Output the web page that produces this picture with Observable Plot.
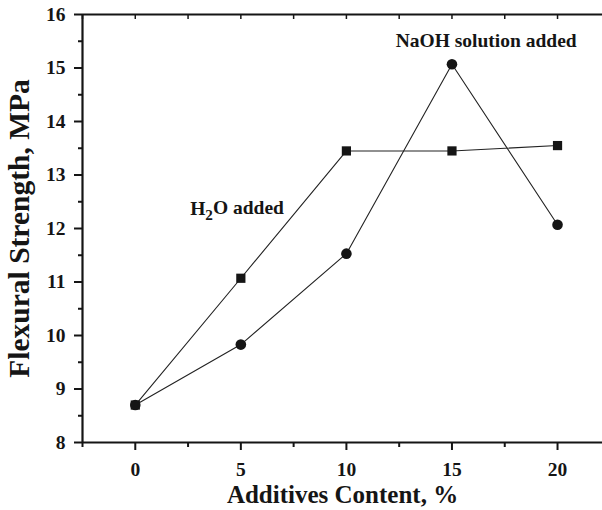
<!DOCTYPE html>
<html>
<head>
<meta charset="utf-8">
<script src="https://cdn.jsdelivr.net/npm/d3@7"></script>
<script src="https://cdn.jsdelivr.net/npm/@observablehq/plot@0.6"></script>
<style>
  html, body { margin: 0; padding: 0; background: white; }
  #chart { width: 602px; height: 510px; overflow: hidden; }
</style>
</head>
<body>
<div id="chart"></div>
<script>
// Data
const additives = [0, 5, 10, 15, 20];
const h2oStrength = [8.7, 11.07, 13.45, 13.45, 13.55];
const naohStrength = [8.7, 9.83, 11.53, 15.07, 12.07];

const xTicks = [0, 5, 10, 15, 20];
const xMinorTicks = [-2.5, 2.5, 7.5, 12.5, 17.5, 22.5];
const yTicks = [8, 9, 10, 11, 12, 13, 14, 15, 16];
const yMinorTicks = [8.5, 9.5, 10.5, 11.5, 12.5, 13.5, 14.5, 15.5];

const xLabel = "Additives Content, %";
const yLabel = "Flexural Strength, MPa";
const annotationText = ["NaOH solution added", "H2O added"];
const annotationX = [16.62, 4.82];
const annotationY = [15.51, 12.37];

const h2o = additives.map((x, i) => ({x, y: h2oStrength[i]}));
const naoh = additives.map((x, i) => ({x, y: naohStrength[i]}));
const notes = annotationText.map((t, i) => ({t, x: annotationX[i], y: annotationY[i]}));

const ink = "#151515";
const font = "Liberation Serif, Times New Roman, serif";

const chart = Plot.plot({
  width: 602,
  height: 510,
  marginLeft: 82,
  marginRight: 0,
  marginTop: 14,
  marginBottom: 68,
  x: {domain: [-2.5, 22.13]},
  y: {domain: [8, 16]},
  style: {fontFamily: font, fontWeight: "bold", color: ink, background: "white", overflow: "hidden"},
  marks: [
    Plot.axisX({ticks: xTicks, tickSize: 8, tickPadding: 12, fontSize: 19.5, label: null, strokeWidth: 2, fill: ink}),
    Plot.axisX({ticks: xMinorTicks, tickSize: 5, tickFormat: () => "", label: null, strokeWidth: 2}),
    Plot.axisX({anchor: "top", ticks: xTicks.concat(xMinorTicks), tickSize: -4, tickFormat: () => "", label: null, strokeWidth: 1.5}),
    Plot.axisY({ticks: yTicks, tickSize: 8, tickPadding: 9, fontSize: 19.5, label: null, strokeWidth: 2, fill: ink}),
    Plot.axisY({ticks: yMinorTicks, tickSize: 4, tickFormat: () => "", label: null, strokeWidth: 2}),
    Plot.ruleY([8], {stroke: ink, strokeWidth: 2.2}),
    Plot.ruleY([16], {stroke: ink, strokeWidth: 2.2}),
    Plot.ruleX([-2.5], {stroke: ink, strokeWidth: 2.2}),
    Plot.line(h2o, {x: "x", y: "y", stroke: "#222", strokeWidth: 1.1}),
    Plot.line(naoh, {x: "x", y: "y", stroke: "#222", strokeWidth: 1.1}),
    Plot.dot(h2o, {x: "x", y: "y", symbol: "square", r: 5.2, fill: ink, stroke: null}),
    Plot.dot(naoh, {x: "x", y: "y", symbol: "circle", r: 5.3, fill: ink, stroke: null}),
    Plot.text(notes, {x: "x", y: "y", text: "t", fontSize: 19.5, fontWeight: "bold", fill: ink, textAnchor: "middle", lineAnchor: "middle"}),
    Plot.text([xLabel], {frameAnchor: "bottom", text: d => d, dy: 52, fontSize: 25, fontWeight: "bold", fill: ink, textAnchor: "middle", lineAnchor: "middle"}),
    Plot.text([yLabel], {frameAnchor: "left", text: d => d, dx: -63, rotate: -90, fontSize: 29.5, fontWeight: "bold", fill: ink, textAnchor: "middle", lineAnchor: "middle"})
  ]
});

// subscript "2" in H2O
d3.select(chart).selectAll("text").each(function() {
  if (this.textContent === "H2O added") {
    const t = d3.select(this);
    t.text(null);
    t.append("tspan").text("H");
    t.append("tspan").attr("dy", "0.3em").attr("font-size", "0.78em").text("2");
    t.append("tspan").attr("dy", "-0.3em").text("O added");
  }
});

document.getElementById("chart").appendChild(chart);
</script>
</body>
</html>
